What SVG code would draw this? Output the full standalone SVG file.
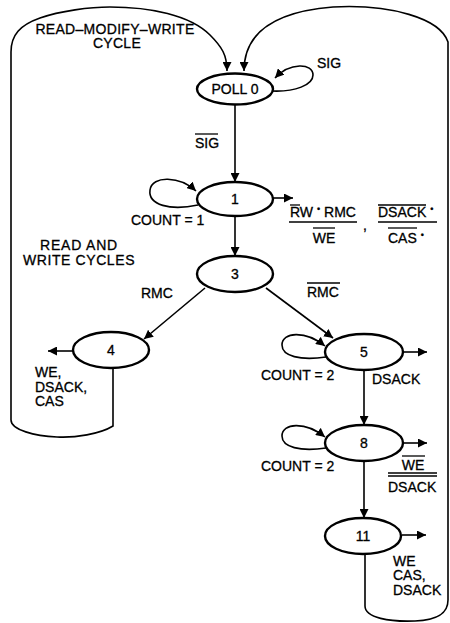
<svg xmlns="http://www.w3.org/2000/svg" width="450" height="623" viewBox="0 0 450 623">
<defs>
<marker id="ah" markerUnits="userSpaceOnUse" markerWidth="10" markerHeight="9" refX="9" refY="4.5" orient="auto">
<path d="M0,0 L9,4.5 L0,9 Z" fill="#000"/>
</marker>
<style>
.node ellipse{fill:#fff;stroke:#000;stroke-width:2.4}
.node text{font-family:"Liberation Sans",Arial,sans-serif;font-size:14px;text-anchor:middle;fill:#000;stroke:#000;stroke-width:0.3}
.lbl{font-family:"Liberation Sans",Arial,sans-serif;font-size:14px;fill:#000;stroke:#000;stroke-width:0.3}
.mid{text-anchor:middle}
.c{fill:none;stroke:#000;stroke-width:1.6}
.a{marker-end:url(#ah)}
.ol{stroke:#000;stroke-width:1.3}
</style>
</defs>
<rect width="450" height="623" fill="#fff"/>
<g id="connectors">
<path class="c a" d="M113 368 L113 426 C100 434 75 438 57 437 C35 436 11 430 11 420 L11 52 C11 35 20 25 40 18 C60 11 90 7 110 7 C150 7 190 15 210 35 C222 47 227 55 227 71"/>
<path class="c a" d="M365 554 L365 606 C365 618 390 622 415 621 C440 620 448 612 448 600 L448 42 C440 18 390 4 333 7 C270 12 244 35 244 71"/>
<path class="c a" d="M272 91 C295 92 313 85 313 75 C313 63 290 62 275 78"/>
<path class="c a" d="M235 105 L235 182"/>
<path class="c a" d="M198 205 C170 211 148 205 150 190 C152 175 180 176 196 191"/>
<path class="c a" d="M273 198 L293 198"/>
<path class="c a" d="M235 216 L235 256"/>
<path class="c a" d="M205 288 L144 339"/>
<path class="c a" d="M266 288 L333 338"/>
<path class="c a" d="M73 351 L48 351"/>
<path class="c a" d="M326 357 C300 361 282 356 282 345 C282 332 305 330 325 346"/>
<path class="c a" d="M403 352 L427 352"/>
<path class="c a" d="M364 370 L364 425"/>
<path class="c a" d="M326 448 C300 452 282 447 282 436 C282 423 305 421 325 437"/>
<path class="c a" d="M403 443 L427 443"/>
<path class="c a" d="M364 461 L364 518"/>
<path class="c a" d="M402 535 L426 535"/>
</g>
<g id="node-poll0" class="node"><ellipse cx="235" cy="89" rx="38" ry="15.5"/><text x="235" y="94">POLL 0</text></g>
<g id="node-1" class="node"><ellipse cx="235" cy="199" rx="38" ry="17"/><text x="235" y="204">1</text></g>
<g id="node-3" class="node"><ellipse cx="235" cy="274" rx="38" ry="18"/><text x="235" y="279">3</text></g>
<g id="node-4" class="node"><ellipse cx="111" cy="350" rx="38" ry="18"/><text x="111" y="355">4</text></g>
<g id="node-5" class="node"><ellipse cx="364" cy="352" rx="39" ry="18"/><text x="364" y="357">5</text></g>
<g id="node-8" class="node"><ellipse cx="364" cy="443" rx="39" ry="18"/><text x="364" y="448">8</text></g>
<g id="node-11" class="node"><ellipse cx="363" cy="536" rx="38" ry="18"/><text x="363" y="541">11</text></g>
<g id="labels">
<text class="lbl mid" x="115" y="34" letter-spacing="0.3">READ–MODIFY–WRITE</text>
<text class="lbl mid" x="117" y="48" letter-spacing="0.3">CYCLE</text>
<text class="lbl" x="317" y="68">SIG</text>
<text class="lbl" x="195" y="148">SIG</text><line class="ol" x1="195" y1="134" x2="218" y2="134"/>
<text class="lbl" x="131" y="225">COUNT = 1</text>
<text class="lbl" x="290" y="217">RW <tspan font-size="9" dy="-5">•</tspan><tspan dy="5"> RMC</tspan></text>
<line class="ol" x1="290" y1="205" x2="300" y2="205"/>
<line class="ol" x1="289" y1="222" x2="357" y2="222"/>
<text class="lbl mid" x="324" y="243">WE</text><line class="ol" x1="313" y1="228" x2="335" y2="228"/>
<text class="lbl" x="363" y="230">,</text>
<text class="lbl" x="378" y="217">DSACK <tspan font-size="9" dy="-5">•</tspan></text>
<line class="ol" x1="378" y1="205" x2="426" y2="205"/>
<line class="ol" x1="378" y1="222" x2="437" y2="222"/>
<text class="lbl" x="388" y="243">CAS <tspan font-size="9" dy="-5">•</tspan></text>
<line class="ol" x1="388" y1="228" x2="417" y2="228"/>
<text class="lbl mid" x="79" y="250" letter-spacing="0.8">READ AND</text>
<text class="lbl mid" x="79" y="265" letter-spacing="0.6">WRITE CYCLES</text>
<text class="lbl" x="141" y="298">RMC</text>
<text class="lbl" x="307" y="297">RMC</text><line class="ol" x1="307" y1="283" x2="340" y2="283"/>
<text class="lbl" x="35" y="377">WE,</text>
<text class="lbl" x="35" y="392">DSACK,</text>
<text class="lbl" x="35" y="406">CAS</text>
<text class="lbl" x="261" y="380">COUNT = 2</text>
<text class="lbl" x="372" y="384">DSACK</text>
<text class="lbl" x="261" y="471">COUNT = 2</text>
<text class="lbl mid" x="413" y="470">WE</text><line class="ol" x1="402" y1="456" x2="425" y2="456"/>
<line class="ol" x1="388" y1="473" x2="437" y2="473"/>
<line class="ol" x1="388" y1="476" x2="437" y2="476"/>
<text class="lbl" x="388" y="492">DSACK</text>
<text class="lbl" x="393" y="566">WE</text>
<text class="lbl" x="393" y="580">CAS,</text>
<text class="lbl" x="393" y="595">DSACK</text>
</g>
</svg>
